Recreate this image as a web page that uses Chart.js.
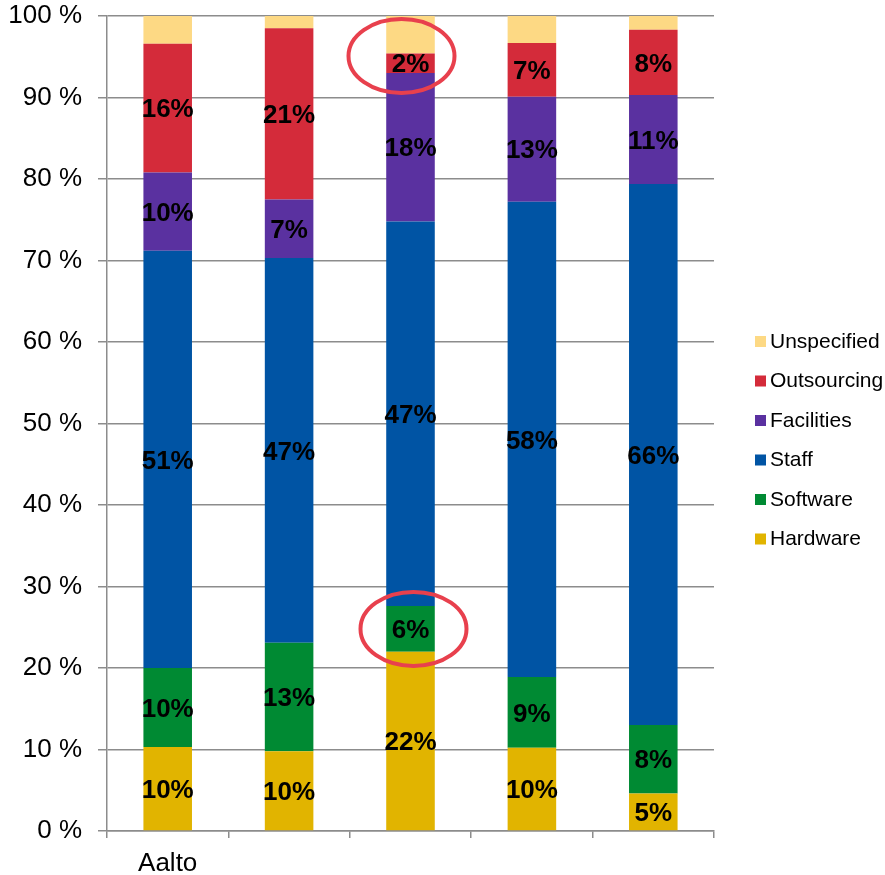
<!DOCTYPE html>
<html>
<head>
<meta charset="utf-8">
<script src="https://cdn.jsdelivr.net/npm/chart.js@4"></script>
<style>
  body { margin: 0; background: #fff; }
  canvas { display: block; }
</style>
</head>
<body>
<canvas id="costChart" width="885" height="875"></canvas>
<script>
const categories = ['Aalto', '', '', '', ''];
const hardware    = [10.3,  9.8, 22.0, 10.2,  4.6];
const software    = [ 9.7, 13.3,  5.6,  8.7,  8.4];
const staff       = [51.2, 47.2, 47.2, 58.3, 66.4];
const facilities  = [ 9.6,  7.2, 18.2, 12.9, 10.9];
const outsourcing = [15.8, 21.0,  2.4,  6.6,  8.0];
const unspecified = [ 3.4,  1.5,  4.6,  3.3,  1.7];
const yTicks = [0, 10, 20, 30, 40, 50, 60, 70, 80, 90, 100];

const FONT = '"Liberation Sans", Arial, Helvetica, sans-serif';

// percentage labels inside each segment (not on Unspecified)
const segmentLabels = {
  id: 'segmentLabels',
  afterDatasetsDraw(chart) {
    const ctx = chart.ctx;
    ctx.save();
    ctx.font = 'bold 26px ' + FONT;
    ctx.fillStyle = '#000';
    ctx.textAlign = 'center';
    ctx.textBaseline = 'middle';
    chart.data.datasets.forEach((ds, i) => {
      if (ds.label === 'Unspecified') return;
      chart.getDatasetMeta(i).data.forEach((bar, j) => {
        const mid = (bar.y + bar.base) / 2;
        ctx.fillText(Math.round(ds.data[j]) + '%', bar.x, mid + 2);
      });
    });
    ctx.restore();
  }
};

// red rings drawn over the third bar
const rings = {
  id: 'rings',
  afterDraw(chart) {
    const x = chart.scales.x, y = chart.scales.y;
    const ctx = chart.ctx;
    ctx.save();
    ctx.strokeStyle = '#e8404d';
    ctx.lineWidth = 4;
    [[2, -9, 95.1], [2, 3, 24.8]].forEach(([idx, dx, v]) => {
      ctx.beginPath();
      ctx.ellipse(x.getPixelForValue(idx) + dx, y.getPixelForValue(v), 53, 37, 0, 0, Math.PI * 2);
      ctx.stroke();
    });
    ctx.restore();
  }
};

// legend on the right, top entry = top segment
const sideLegend = {
  id: 'sideLegend',
  afterDraw(chart) {
    const ctx = chart.ctx;
    const items = chart.data.datasets.slice().reverse();
    ctx.save();
    ctx.font = '21px ' + FONT;
    ctx.textBaseline = 'middle';
    ctx.textAlign = 'left';
    items.forEach((ds, k) => {
      const cy = 342 + k * 39.5;
      ctx.fillStyle = ds.backgroundColor;
      ctx.fillRect(755, cy - 6, 11, 11);
      ctx.fillStyle = '#000';
      ctx.fillText(ds.label, 770, cy);
    });
    ctx.restore();
  }
};

const ctx = document.getElementById('costChart');
new Chart(ctx, {
  type: 'bar',
  data: {
    labels: categories,
    datasets: [
      { label: 'Hardware', data: hardware, backgroundColor: '#e1b400' },
      { label: 'Software', data: software, backgroundColor: '#008a33' },
      { label: 'Staff', data: staff, backgroundColor: '#0054a4' },
      { label: 'Facilities', data: facilities, backgroundColor: '#5a31a0' },
      { label: 'Outsourcing', data: outsourcing, backgroundColor: '#d42b3a' },
      { label: 'Unspecified', data: unspecified, backgroundColor: '#fdd984' },
    ],
  },
  options: {
    responsive: false,
    animation: false,
    layout: { padding: { left: 0, right: 171, top: 16, bottom: 0 } },
    datasets: { bar: { barPercentage: 0.4, categoryPercentage: 1, borderWidth: 0 } },
    plugins: {
      legend: { display: false },
      tooltip: { enabled: false },
    },
    scales: {
      x: {
        stacked: true,
        afterFit: (s) => { s.height = 44; s.paddingLeft = 0; s.paddingRight = 0; },
        grid: { offset: true, drawOnChartArea: false, drawTicks: true, tickLength: 7, color: '#8c8c8c', lineWidth: 1.5 },
        border: { color: '#8c8c8c', width: 1.5 },
        ticks: { color: '#000', font: { family: FONT, size: 26 }, padding: 10, maxRotation: 0, autoSkip: false },
      },
      y: {
        stacked: true,
        min: 0,
        max: 100,
        afterBuildTicks: (axis) => { axis.ticks = yTicks.map(v => ({ value: v })); },
        afterFit: (s) => { s.width = 107; s.paddingTop = 0; s.paddingBottom = 0; },
        grid: { color: '#8c8c8c', lineWidth: 1.5, tickLength: 9 },
        border: { color: '#8c8c8c', width: 1.5 },
        ticks: { color: '#000', font: { family: FONT, size: 26 }, padding: 16, callback: v => v + ' %' },
      },
    },
  },
  plugins: [segmentLabels, rings, sideLegend],
});
</script>
</body>
</html>
